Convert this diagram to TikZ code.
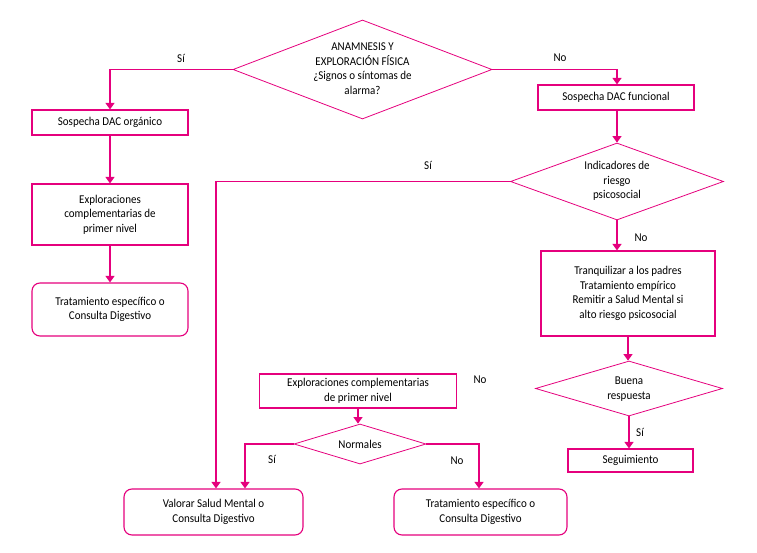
\documentclass[tikz,border=0pt]{standalone}
\usepackage{fontspec}
\setmainfont{Carlito}[FakeStretch=0.92]
\usetikzlibrary{shapes.geometric,arrows.meta,calc}
\definecolor{mag}{HTML}{E5007D}
\begin{document}
\begin{tikzpicture}[x=1bp,y=-1bp,
  font=\fontsize{12}{14.5}\selectfont,
  box/.style={draw=mag,line width=1.1bp,rectangle,inner sep=0,align=center},
  rbox/.style={box,rounded corners=8bp},
  dia/.style={draw=mag,line width=0.8bp,diamond,inner sep=0},
  txt/.style={align=center,inner sep=0},
  arr/.style={draw=mag,line width=1.1bp,-{Triangle[width=9bp,length=6.5bp]}},
  lab/.style={inner sep=0}]
\useasboundingbox (0,0) rectangle (757,553);
% diamonds
\node[dia,minimum width=259bp,minimum height=99bp] (d1) at (362.5,69.5) {};
\node[txt] (d1t) at (362.5,68.5) {ANAMNESIS Y\\EXPLORACIÓN FÍSICA\\¿Signos o síntomas de\\alarma?};
\node[dia,minimum width=213bp,minimum height=77bp] (d2) at (617,181.5) {};
\node[txt] (d2t) at (617,181) {Indicadores de\\riesgo\\psicosocial};
\node[dia,minimum width=187bp,minimum height=55bp] (d3) at (629,388.5) {};
\node[txt] (d3t) at (629,389) {Buena\\respuesta};
\node[dia,minimum width=132bp,minimum height=40bp] (d4) at (360,444) {};
\node[txt] (d4t) at (360,444) {Normales};
% boxes
\node[box,minimum width=156bp,minimum height=25bp] (b1) at (110,122.5) {Sospecha DAC orgánico};
\node[box,minimum width=156bp,minimum height=61bp] (b2) at (110,214.5) {Exploraciones\\complementarias de\\primer nivel};
\node[rbox,minimum width=156bp,minimum height=53bp] (b3) at (110,309.5) {Tratamiento específico o\\Consulta Digestivo};
\node[box,minimum width=156bp,minimum height=25bp] (b4) at (616,97.5) {Sospecha DAC funcional};
\node[box,minimum width=174bp,minimum height=85bp] (b5) at (628,293.5) {Tranquilizar a los padres\\Tratamiento empírico\\Remitir a Salud Mental si\\alto riesgo psicosocial};
\node[box,minimum width=125bp,minimum height=23bp] (b6) at (630.5,460.5) {Seguimiento};
\node[box,minimum width=197bp,minimum height=34bp] (b7) at (358,391) {Exploraciones complementarias\\de primer nivel};
\node[rbox,minimum width=179bp,minimum height=46bp] (b8) at (213.5,512) {Valorar Salud Mental o\\Consulta Digestivo};
\node[rbox,minimum width=173bp,minimum height=46bp] (b9) at (480.5,512) {Tratamiento específico o\\Consulta Digestivo};
% connectors
\draw[arr] (d1.west) -| (b1.north);
\draw[arr] (b1) -- (b2);
\draw[arr] (b2) -- (b3);
\draw[arr] (d1.east) -| ([xshift=1bp]b4.north);
\draw[arr] ([xshift=1bp]b4.south) -- ([xshift=1bp]b4.south |- d2.north);
\draw[arr] (d2.west) -| ([xshift=2.5bp]b8.north);
\draw[arr] (d2.south) -- (d2.south |- b5.north);
\draw[arr] (b5.south) -- (b5.south |- d3.north);
\draw[arr] (d3.south) -- (d3.south |- b6.north);
\draw[arr] (b7.south) -- (b7.south |- d4.north);
\draw[arr] (d4.west) -| ([xshift=31.5bp]b8.north);
\draw[arr] (d4.east) -| ([xshift=-1.5bp]b9.north);
% labels
\node[lab] (l1) at (181,58) {Sí};
\node[lab] (l2) at (560,58) {No};
\node[lab] (l3) at (428,165) {Sí};
\node[lab] (l4) at (641,238) {No};
\node[lab] (l5) at (272,459) {Sí};
\node[lab] (l6) at (457,461) {No};
\node[lab] (l7) at (480,380) {No};
\node[lab] (l8) at (640,432) {Sí};
\end{tikzpicture}
\end{document}
